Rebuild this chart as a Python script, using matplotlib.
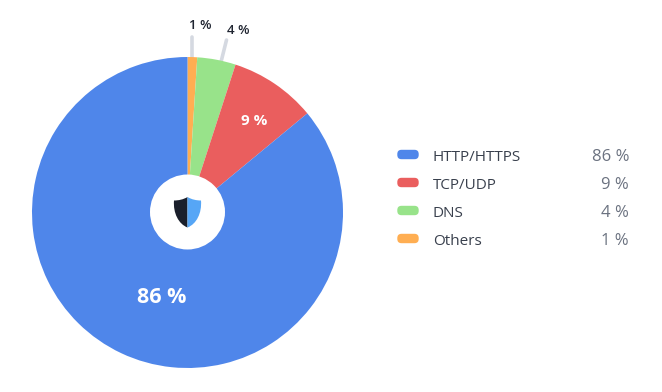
import matplotlib
matplotlib.use("Agg")
import numpy as np
import matplotlib.pyplot as plt
import matplotlib.patheffects as pe
from matplotlib.patches import Circle, FancyBboxPatch, PathPatch
from matplotlib.path import Path

plt.rcParams['font.family'] = ['Open Sans', 'DejaVu Sans']

# Data
categories = ["HTTP/HTTPS", "TCP/UDP", "DNS", "Others"]
values = [86, 9, 4, 1]
colors = ["#4f86ea", "#ea5e5e", "#98e38a", "#ffae52"]

H = 392
fig = plt.figure(figsize=(6.62, 3.92), dpi=100)
ax = fig.add_axes([0, 0, 1, 1])

# Pie starts at 12 o'clock, smallest slice first, going clockwise
cx, cy, radius = 187.5, H - 212.5, 155.5
ax.pie(values[::-1], colors=colors[::-1], startangle=90, counterclock=False,
       center=(cx, cy), radius=radius, wedgeprops={"linewidth": 0, "zorder": 2})

ax.set_xlim(0, 662)
ax.set_ylim(0, H)
ax.set_aspect("equal")
ax.axis("off")

# Hole in the middle
ax.add_patch(Circle((cx, H - 212), 37.5, fc="white", ec="none", zorder=3))


# Shield icon, split in two halves
def half_shield(side, color):
    x0 = 187.5
    verts = [(x0, H - 197),
             (x0 + side * 4, H - 199.5), (x0 + side * 9, H - 200.5), (x0 + side * 13.5, H - 200.5),
             (x0 + side * 14.5, H - 213), (x0 + side * 9, H - 224), (x0, H - 227.5),
             (x0, H - 197)]
    codes = [Path.MOVETO, Path.CURVE4, Path.CURVE4, Path.CURVE4,
             Path.CURVE4, Path.CURVE4, Path.CURVE4, Path.CLOSEPOLY]
    ax.add_patch(PathPatch(Path(verts, codes), fc=color, ec="none", zorder=4))


half_shield(-1, "#1a1f2b")
half_shield(1, "#56a6f6")

# Leader lines for the small slices
line_color = "#d5d9e1"
ax.plot([192, 192], [H - 60, H - 37], color=line_color, lw=2.6,
        solid_capstyle="round", zorder=1)
ax.plot([221, 226.5], [H - 62, H - 40], color=line_color, lw=2.6,
        solid_capstyle="round", zorder=1)

# Slice labels
ax.text(200, H - 23.5, f"{values[3]} %", color="#1f2430", fontsize=9.5, fontweight="semibold",
        ha="center", va="center_baseline")
ax.text(238.5, H - 28.5, f"{values[2]} %", color="#1f2430", fontsize=9.5, fontweight="semibold",
        ha="center", va="center_baseline")
ax.text(254.5, H - 119.5, f"{values[1]} %", color="white", fontsize=11, fontweight="bold",
        ha="center", va="center_baseline")
ax.text(162, H - 295, f"{values[0]} %", color="white", fontsize=15.5, fontweight="bold",
        ha="center", va="center_baseline")

# Legend
legend_y = [155, 183, 211, 239]
for name, val, col, y in zip(categories, values, colors, legend_y):
    ax.add_patch(FancyBboxPatch((401.5, H - y + 0.0), 13, 1, boxstyle="round,pad=4.2,rounding_size=4.2",
                                fc=col, ec="none"))
    ax.text(433, H - y, name, color="#39404d", fontsize=11, ha="left", va="center_baseline")
    ax.text(629, H - y, f"{val} %", color="#6b7280", fontsize=12, ha="right", va="center_baseline")

plt.savefig("out.png", dpi=100)
